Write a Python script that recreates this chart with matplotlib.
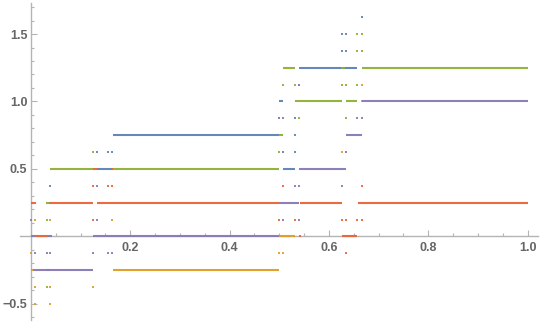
import matplotlib
matplotlib.use("Agg")
import matplotlib.pyplot as plt
from matplotlib.ticker import MultipleLocator, FuncFormatter

# horizontal runs per series: (x start, x end, level)
blue_segments = [
    (0.134, 0.163, 0.5),
    (0.165, 0.5, 0.75),
    (0.5, 0.508, 1.0),
    (0.508, 0.532, 0.5),
    (0.54, 0.657, 1.25),
]
orange_segments = [
    (0.0, 0.004, -0.25),
    (0.165, 0.5, -0.25),
    (0.5, 0.532, 0.0),
]
green_segments = [
    (0.030, 0.036, 0.25),
    (0.038, 0.125, 0.5),
    (0.164, 0.5, 0.5),
    (0.5, 0.508, 0.75),
    (0.508, 0.532, 1.25),
    (0.532, 0.626, 1.0),
    (0.634, 0.657, 1.0),
    (0.666, 1.0, 1.25),
]
red_segments = [
    (0.0, 0.01, 0.25),
    (0.01, 0.032, 0.0),
    (0.036, 0.125, 0.25),
    (0.125, 0.134, 0.5),
    (0.133, 0.5, 0.25),
    (0.542, 0.626, 0.25),
    (0.626, 0.657, 0.0),
    (0.659, 1.0, 0.25),
]
purple_segments = [
    (0.0, 0.01, 0.0),
    (0.004, 0.125, -0.25),
    (0.032, 0.042, 0.0),
    (0.125, 0.5, 0.0),
    (0.5, 0.54, 0.25),
    (0.54, 0.634, 0.5),
    (0.634, 0.666, 0.75),
    (0.666, 1.0, 1.0),
]

# isolated points per series: (x, value)
blue_dots = [
    (0.666, 1.625), (0.626, 1.5), (0.634, 1.5), (0.626, 1.375), (0.634, 1.375),
    (0.54, 1.125), (0.5, 0.875), (0.532, 0.875), (0.508, 0.625), (0.532, 0.625),
    (0.133, 0.625), (0.156, 0.625), (0.164, 0.625), (0.038, 0.375), (0.532, 0.75),
]
green_dots = [
    (0.657, 1.5), (0.666, 1.5), (0.657, 1.375), (0.666, 1.375), (0.508, 1.125),
    (0.532, 1.125), (0.626, 1.125), (0.634, 1.125), (0.657, 1.125), (0.54, 0.875),
    (0.634, 0.875), (0.5, 0.625), (0.125, 0.625), (0.032, 0.125), (0.032, -0.375),
    (0.626, 1.25), (0.63, 1.25),
]
orange_dots = [
    (0.666, 1.125), (0.666, 1.0), (0.626, 0.625), (0.008, 0.125), (0.038, 0.125),
    (0.164, 0.125), (0.0, -0.125), (0.5, -0.125), (0.508, -0.125), (0.008, -0.375),
    (0.038, -0.375), (0.125, -0.375), (0.008, -0.5), (0.038, -0.5),
]
red_dots = [
    (0.508, 0.375), (0.666, 0.375), (0.125, 0.375), (0.156, 0.375), (0.164, 0.375),
    (0.5, 0.125), (0.532, 0.125), (0.626, 0.125), (0.634, 0.125), (0.657, 0.125),
    (0.666, 0.125), (0.125, 0.125), (0.634, -0.125), (0.034, -0.25), (0.542, 0.0),
    (0.164, 0.5),
]
purple_dots = [
    (0.508, 0.875), (0.657, 0.875), (0.666, 0.875), (0.634, 0.625), (0.532, 0.375),
    (0.54, 0.375), (0.626, 0.375), (0.133, 0.375), (0.0, 0.125), (0.133, 0.125),
    (0.508, 0.125), (0.54, 0.125), (0.008, -0.125), (0.032, -0.125), (0.038, -0.125),
    (0.125, -0.125), (0.156, -0.125), (0.164, -0.125),
]

series = [
    ("#5E81B5", blue_segments, blue_dots),
    ("#E19C24", orange_segments, orange_dots),
    ("#8FB032", green_segments, green_dots),
    ("#EB6235", red_segments, red_dots),
    ("#8778B3", purple_segments, purple_dots),
]

plt.rcParams['font.family'] = ['Liberation Sans', 'DejaVu Sans']

fig = plt.figure(figsize=(5.4, 3.23), dpi=100)
ax = fig.add_axes([20/540, 3/323, 518/540, 317/323])

for color, segs, dots in series:
    x0 = [s[0] for s in segs]
    x1 = [s[1] for s in segs]
    lv = [s[2] for s in segs]
    ax.hlines(lv, x0, x1, colors=color, linewidth=1.5, alpha=0.95, zorder=3)
    ax.scatter([d[0] for d in dots], [d[1] for d in dots], marker='s', s=2.5,
               color=color, linewidths=0, alpha=0.9, zorder=3)

ax.set_xlim(-0.022, 1.021)
ax.set_ylim(-0.62, 1.73)

gray = '#b4b4b4'
for side in ['top', 'right']:
    ax.spines[side].set_visible(False)
ax.spines['left'].set_position(('data', 0))
ax.spines['bottom'].set_position(('data', 0))
for side in ['left', 'bottom']:
    ax.spines[side].set_color(gray)
    ax.spines[side].set_linewidth(1.0)
    ax.spines[side].set_zorder(1)

ax.xaxis.set_major_locator(MultipleLocator(0.2))
ax.xaxis.set_minor_locator(MultipleLocator(0.05))
ax.yaxis.set_major_locator(MultipleLocator(0.5))
ax.yaxis.set_minor_locator(MultipleLocator(0.1))

def fmt(v, pos):
    if abs(v) < 1e-9:
        return ''
    return f'{v:.1f}'.replace('-', '\u2212')

ax.xaxis.set_major_formatter(FuncFormatter(fmt))
ax.yaxis.set_major_formatter(FuncFormatter(fmt))

ax.tick_params(which='both', direction='in', color=gray, width=0.8)
ax.tick_params(which='major', length=4)
ax.tick_params(which='minor', length=2.5)
ax.tick_params(axis='x', which='major', pad=4, labelsize=9, labelcolor='#666666')
ax.tick_params(axis='y', which='major', pad=2.5, labelsize=9, labelcolor='#666666')
for lbl in ax.get_xticklabels() + ax.get_yticklabels():
    lbl.set_fontweight('bold')

fig.savefig('out.png', dpi=100)
